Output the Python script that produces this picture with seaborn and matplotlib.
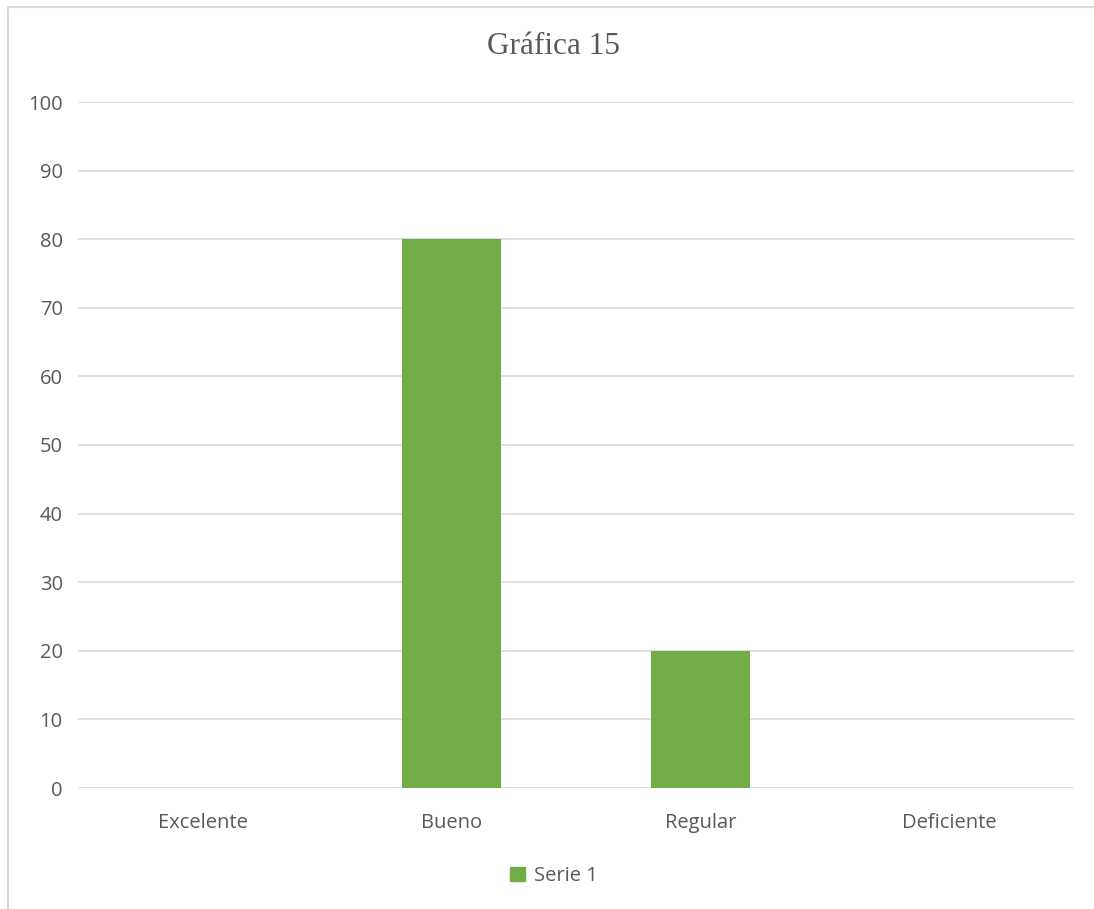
import seaborn as sns
import matplotlib.pyplot as plt
import pandas as pd
from matplotlib.lines import Line2D
from matplotlib.patches import Patch

categorias = ['Excelente', 'Bueno', 'Regular', 'Deficiente']
valores = [0, 80, 20, 0]
serie = 'Serie 1'
yticks = list(range(0, 101, 10))

df = pd.DataFrame({'categoria': categorias, 'valor': valores})

sns.set_style('white')
plt.rcParams['font.family'] = ['Open Sans', 'DejaVu Sans']

fig = plt.figure(figsize=(10.94, 9.09), dpi=100)
ax = fig.add_axes([78 / 1094, 1 - 788 / 909, 996 / 1094, 686 / 909])

sns.barplot(data=df, x='categoria', y='valor', color='#70AD47', width=0.395,
            saturation=1, linewidth=0, ax=ax)

ax.set_ylim(0, 100)
ax.set_xlim(-0.5, len(categorias) - 0.5)
ax.set_yticks(yticks)
ax.set_yticklabels([str(t) for t in yticks])
ax.yaxis.grid(True, color='#d9d9d9', linewidth=1.2)
ax.set_axisbelow(True)
for s in ax.spines.values():
    s.set_visible(False)
ax.tick_params(axis='both', length=0, labelsize=14.5, colors='#595959')
ax.tick_params(axis='y', pad=11)
ax.tick_params(axis='x', pad=18)
ax.set_xlabel('')
ax.set_ylabel('')

fig.text(554 / 1094, 1 - 46 / 909, 'Gráfica 15', ha='center', va='center',
         fontsize=22.5, color='#595959', family=['Liberation Serif', 'DejaVu Serif'])

fig.legend(handles=[Patch(color='#70AD47', label=serie)], loc='center',
           bbox_to_anchor=(554 / 1094, 1 - 876 / 909), frameon=False,
           fontsize=14.5, labelcolor='#595959', handlelength=0.75,
           handleheight=0.75, handletextpad=0.45)

# chart area border
fig.add_artist(Line2D([8 / 1094, 8 / 1094], [0, 1 - 7 / 909], color='#d9d9d9',
                      linewidth=1.5, transform=fig.transFigure))
fig.add_artist(Line2D([8 / 1094, 1], [1 - 7 / 909, 1 - 7 / 909], color='#d9d9d9',
                      linewidth=1.5, transform=fig.transFigure))

fig.savefig('out.png', dpi=100, facecolor='white')
